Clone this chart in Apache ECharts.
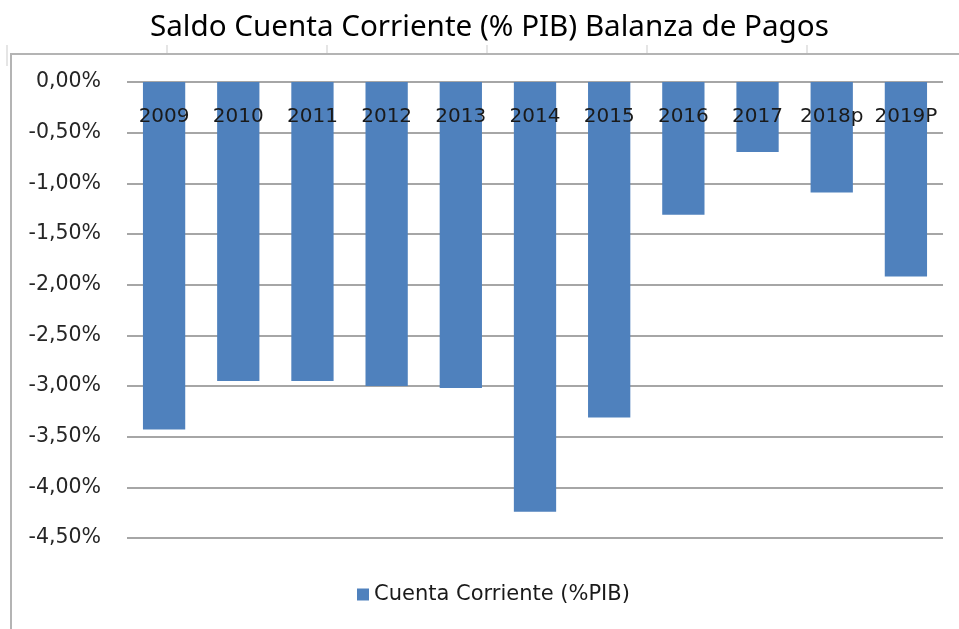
<!DOCTYPE html>
<html>
<head>
<meta charset="utf-8">
<title>Saldo Cuenta Corriente</title>
<script src="https://cdn.jsdelivr.net/npm/echarts@6/dist/echarts.min.js"></script>
<style>
  html, body { margin: 0; padding: 0; background: #fff; }
  #chart { width: 959px; height: 629px; }
</style>
</head>
<body>
<div id="chart"></div>
<script>
// data (% of GDP)
var years = ['2009', '2010', '2011', '2012', '2013', '2014', '2015', '2016', '2017', '2018p', '2019P']
var cuentaCorriente = [-3.43, -2.95, -2.95, -3.00, -3.02, -4.24, -3.31, -1.31, -0.69, -1.09, -1.92]
var yTicks = { min: -4.5, max: 0, step: 0.5 }

var chart = echarts.init(document.getElementById('chart'))

// frame of the sheet around the chart, with the little ruler marks on top
var frameColor = '#b4b4b4'
var rulerMarks = [7, 167, 327, 487, 647, 807].map(function(x, i) {
  return {
    type: 'line',
    shape: { x1: x, y1: 45, x2: x, y2: i === 0 ? 66 : 53 },
    style: { stroke: '#dcdcdc', lineWidth: 1.5 }
  }
})

chart.setOption({
  animation: false,
  title: {
    text: 'Saldo Cuenta Corriente (% PIB) Balanza de Pagos',
    left: 145,
    top: 8,
    textStyle: {
      fontFamily: 'Noto Sans',
      fontSize: 29.6,
      fontWeight: 'normal',
      color: '#000'
    }
  },
  graphic: rulerMarks.concat([
    {
      type: 'line',
      shape: { x1: 10, y1: 54, x2: 959, y2: 54 },
      style: { stroke: frameColor, lineWidth: 2 }
    },
    {
      type: 'line',
      shape: { x1: 11, y1: 54, x2: 11, y2: 629 },
      style: { stroke: frameColor, lineWidth: 2 }
    }
  ]),
  legend: {
    data: ['Cuenta Corriente (%PIB)'],
    left: 352,
    top: 579,
    itemWidth: 12,
    itemHeight: 12,
    itemGap: 10,
    icon: 'rect',
    textStyle: {
      fontFamily: 'DejaVu Sans',
      fontSize: 21,
      color: '#1a1a1a'
    }
  },
  grid: {
    left: 127,
    right: 16,
    top: 82,
    bottom: 91
  },
  xAxis: {
    type: 'category',
    data: years,
    position: 'top',
    z: 10,
    axisTick: { show: false },
    axisLine: { show: false },
    axisLabel: {
      inside: true,
      interval: 0,
      margin: 25,
      fontFamily: 'DejaVu Sans',
      fontSize: 20,
      color: '#1a1a1a'
    }
  },
  yAxis: {
    type: 'value',
    min: yTicks.min,
    max: yTicks.max,
    interval: yTicks.step,
    axisLine: { show: false },
    axisTick: { show: false },
    axisLabel: {
      margin: 26,
      fontFamily: 'DejaVu Sans',
      fontSize: 20.5,
      color: '#262626',
      formatter: function(v) {
        return v.toFixed(2).replace('.', ',') + '%'
      }
    },
    splitLine: {
      lineStyle: { color: '#888', width: 1.6 }
    }
  },
  series: [
    {
      name: 'Cuenta Corriente (%PIB)',
      type: 'bar',
      data: cuentaCorriente,
      barWidth: '57%',
      z: 2,
      itemStyle: {
        color: '#4f81bd'
      }
    }
  ]
})
</script>
</body>
</html>
